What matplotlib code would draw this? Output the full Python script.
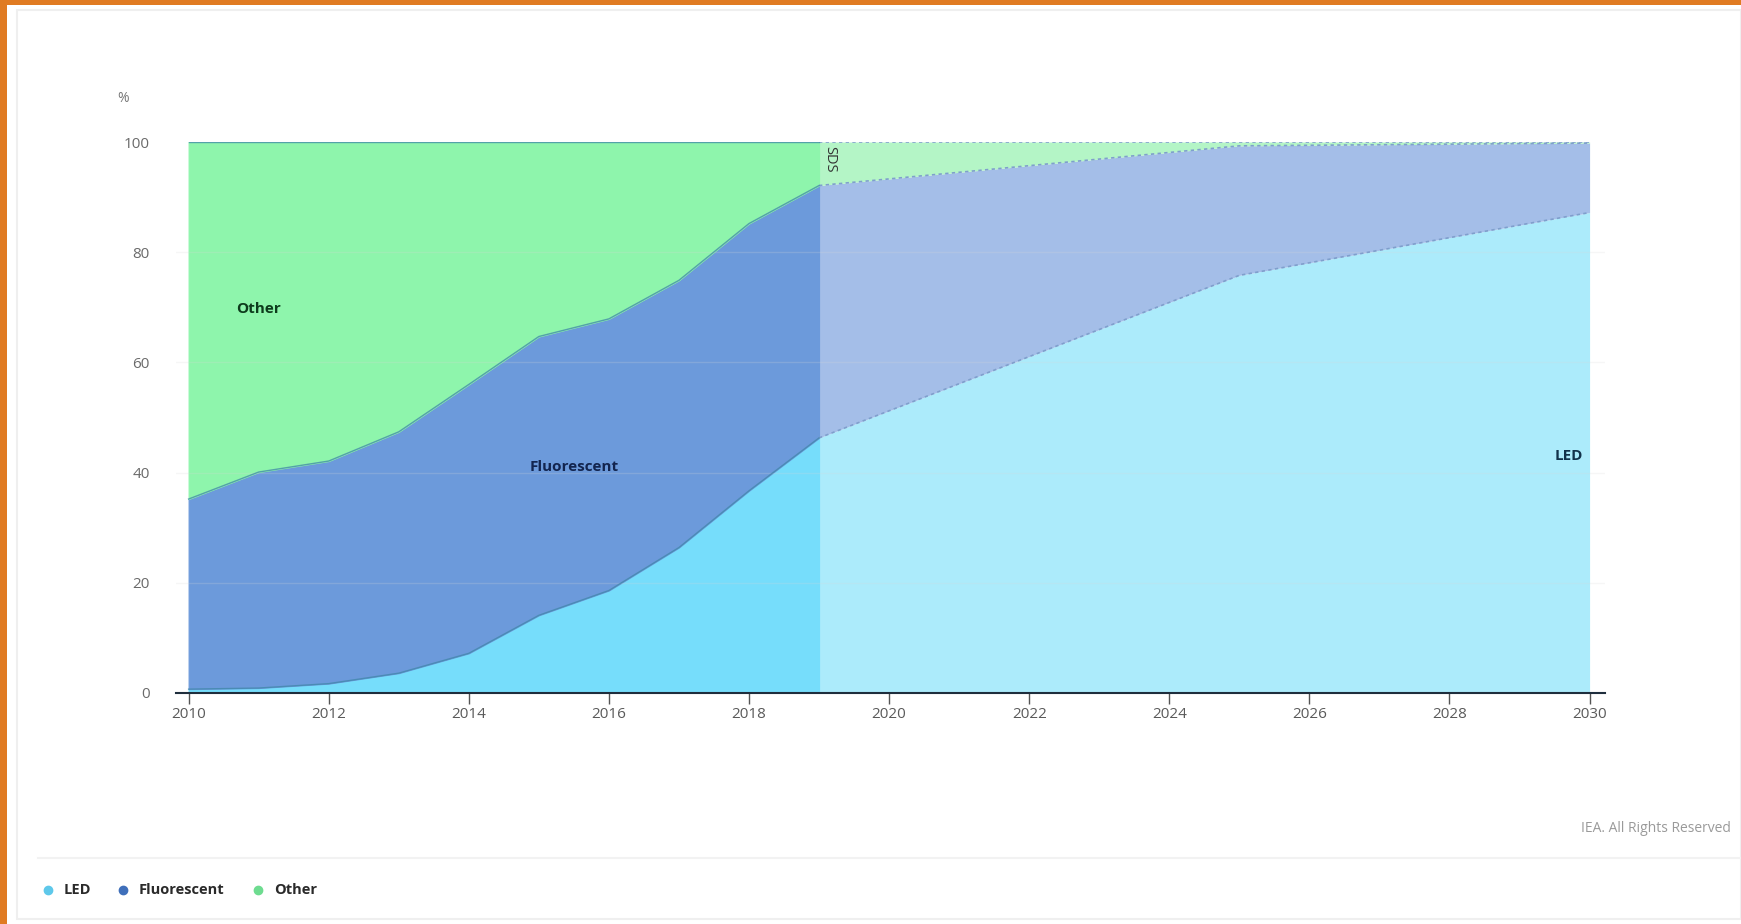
import matplotlib
matplotlib.use("Agg")
import matplotlib.pyplot as plt
from matplotlib.patches import Rectangle, FancyBboxPatch
from matplotlib.lines import Line2D

plt.rcParams['font.family'] = ['Open Sans', 'DejaVu Sans']

# ---- data ----
years_hist = [2010, 2011, 2012, 2013, 2014, 2015, 2016, 2017, 2018, 2019]
led_hist = [0.7, 0.9, 1.7, 3.6, 7.2, 14.1, 18.6, 26.4, 36.7, 46.3]
fluor_hist = [34.5, 39.2, 40.4, 43.8, 48.8, 50.6, 49.3, 48.5, 48.5, 45.8]
other_hist = [64.8, 59.9, 57.9, 52.6, 44.0, 35.3, 32.1, 25.1, 14.8, 7.9]

years_sds = [2019, 2025, 2030]
led_sds = [46.3, 75.8, 87.2]
fluor_sds = [45.8, 23.5, 12.6]
other_sds = [7.9, 0.7, 0.2]

series_names = ["LED", "Fluorescent", "Other"]
xticks = [2010, 2012, 2014, 2016, 2018, 2020, 2022, 2024, 2026, 2028, 2030]
yticks = [0, 20, 40, 60, 80, 100]

col_hist = ["#76ddfb", "#6c9adb", "#8ef5ac"]
col_sds = ["#acebfb", "#a4bee8", "#b4f5c6"]
col_legend = ["#5ec8ea", "#3f6fba", "#6edc90"]

W, H = 1741, 924
fig = plt.figure(figsize=(W / 100, H / 100), dpi=100)
fig.patch.set_facecolor("white")

# frame decorations
fig.patches.append(FancyBboxPatch((17 / W, 5 / H), (W - 17) / W, (H - 15) / H,
                                  boxstyle="square,pad=0", transform=fig.transFigure,
                                  facecolor="white", edgecolor="#efefef", lw=1.5, zorder=-5))
fig.patches.append(Rectangle((0, 0), 7 / W, 1, transform=fig.transFigure,
                             facecolor="#e07b22", edgecolor="none", zorder=1))
fig.patches.append(Rectangle((0, 1 - 5 / H), 1, 5 / H, transform=fig.transFigure,
                             facecolor="#e07b22", edgecolor="none", zorder=1))
fig.lines.append(Line2D([38 / W, 1.0], [1 - 858 / H] * 2, transform=fig.transFigure,
                        color="#f2f2f2", lw=1.5, zorder=-4))

ax = fig.add_axes([176 / W, 1 - 693 / H, (1605 - 176) / W, (693 - 142) / H])
ax.set_xlim(2009.82, 2030.22)
ax.set_ylim(0, 100)
ax.patch.set_alpha(0)


def stack(a, b, c):
    s1 = list(a)
    s2 = [x + y for x, y in zip(a, b)]
    s3 = [x + y for x, y in zip(s2, c)]
    return s1, s2, s3


h1, h2, h3 = stack(led_hist, fluor_hist, other_hist)
p1, p2, p3 = stack(led_sds, fluor_sds, other_sds)

ax.fill_between(years_sds, 0, p1, color=col_sds[0], lw=0, zorder=1)
ax.fill_between(years_sds, p1, p2, color=col_sds[1], lw=0, zorder=1)
ax.fill_between(years_sds, p2, p3, color=col_sds[2], lw=0, zorder=1)
for s in (p1, p2, p3):
    ax.plot(years_sds, s, color="#7f9fcc", lw=1.2, ls=(0, (2, 2)), zorder=3)

ax.fill_between(years_hist, 0, h1, facecolor=col_hist[0], edgecolor=col_hist[0],
                lw=0.8, zorder=1.5)
ax.fill_between(years_hist, h1, h2, facecolor=col_hist[1], edgecolor=col_hist[1],
                lw=0.8, zorder=1.5)
ax.fill_between(years_hist, h2, h3, facecolor=col_hist[2], edgecolor=col_hist[2],
                lw=0.8, zorder=1.5)
for s in (h1, h2, h3):
    ax.plot(years_hist, s, color="#3f86a8", lw=1.0, alpha=0.75, zorder=3)

# grid
for y in yticks[1:-1]:
    ax.axhline(y, color="#d8d8d8", lw=1, alpha=0.22, zorder=2)

for sp in ("left", "right", "top"):
    ax.spines[sp].set_visible(False)
ax.spines["bottom"].set_color("#1f2e3d")
ax.spines["bottom"].set_linewidth(1.5)
ax.spines["bottom"].set_zorder(4)

ax.set_xticks(xticks)
ax.set_xticklabels([str(x) for x in xticks])
ax.set_yticks(yticks)
ax.set_yticklabels([str(y) for y in yticks])
ax.tick_params(axis="x", length=8, width=1, color="#555555", labelsize=11,
               labelcolor="#5a5a5a", pad=2)
ax.tick_params(axis="y", length=0, labelsize=11, labelcolor="#6a6a6a", pad=19)

fig.text(123 / W, 1 - 99 / H, "%", fontsize=10, color="#777777", ha="center", va="center")

# in-plot labels
ax.text(2011.0, 69.7, "Other", fontsize=11, fontweight="bold", color="#0d3b1c",
        ha="center", va="center", zorder=5)
ax.text(2015.5, 41.0, "Fluorescent", fontsize=11, fontweight="bold", color="#13254f",
        ha="center", va="center", zorder=5)
ax.text(2029.9, 43.0, "LED", fontsize=11, fontweight="bold", color="#12324a",
        ha="right", va="center", zorder=5)
ax.text(2019.04, 99.3, "SDS", fontsize=10.5, color="#333333", rotation=270,
        ha="left", va="top", zorder=5)

# legend
leg_x = [48, 123, 258]
for x, name, c in zip(leg_x, series_names, col_legend):
    fig.lines.append(Line2D([x / W], [1 - 890 / H], marker="o", ms=6, color=c,
                            transform=fig.transFigure, lw=0))
    fig.text((x + 16) / W, 1 - 890 / H, name, fontsize=10.5, fontweight="bold",
             color="#2a2a2a", ha="left", va="center")

fig.text(1731 / W, 1 - 828 / H, "IEA. All Rights Reserved", fontsize=10,
         color="#9a9a9a", ha="right", va="center")

fig.savefig("out.png", dpi=100)
